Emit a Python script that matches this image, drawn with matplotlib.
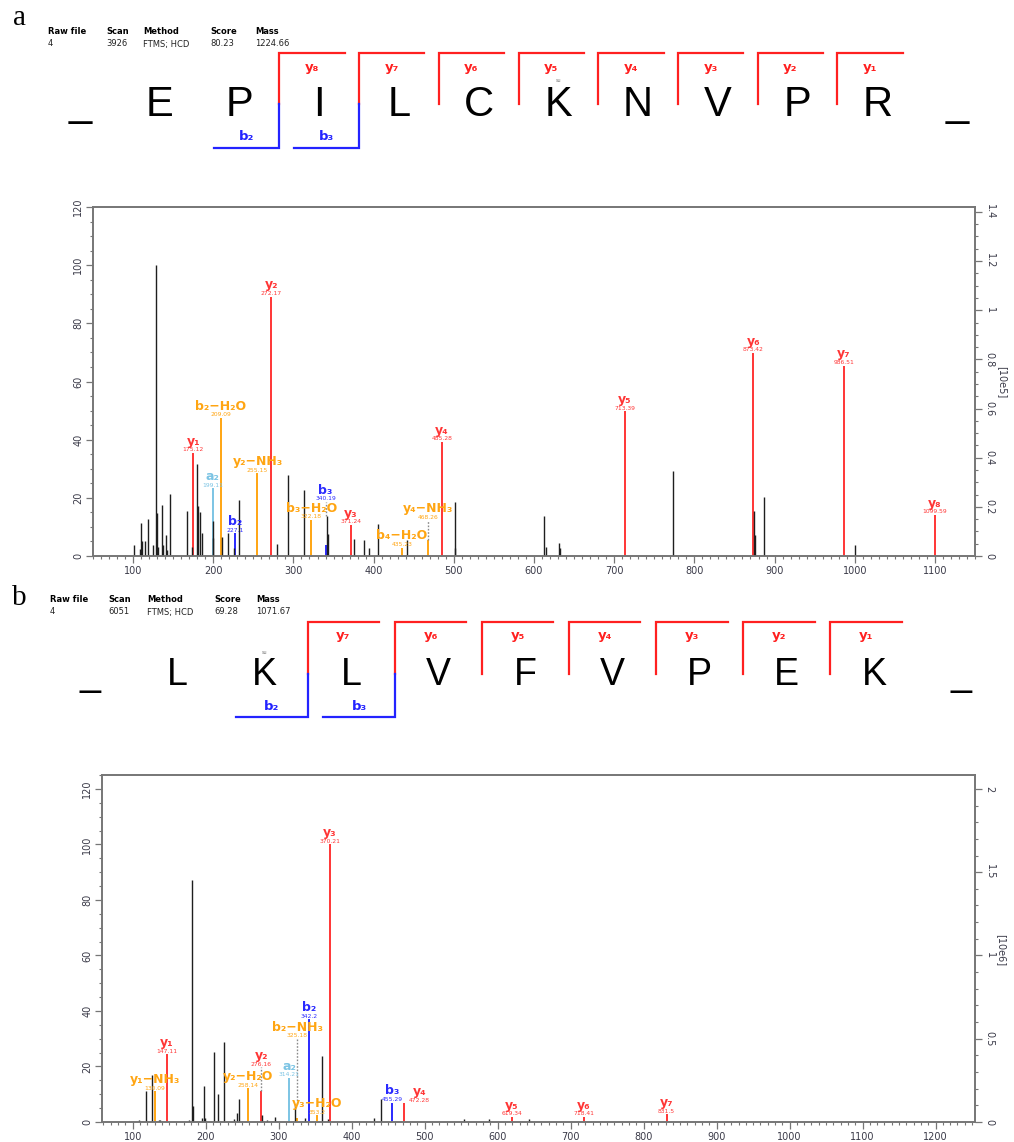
import matplotlib
matplotlib.use("Agg")
import matplotlib.pyplot as plt
import numpy as np
from matplotlib.ticker import MultipleLocator, FormatStrFormatter

# ---- data, panel a -------------------------------------------------------
a_info = ["4", "3926", "FTMS; HCD", "80.23", "1224.66"]
a_seq = ["E", "P", "I", "L", "C", "K", "N", "V", "P", "R"]
a_y_ions = [8, 7, 6, 5, 4, 3, 2, 1]
a_b_ions = [2, 3]

a_black_mz = [101.0, 108.5, 109.7, 111.4, 114.7, 118.9, 125.1, 128.4, 129.2, 131.3,
              135.5, 137.6, 140.5, 142.6, 146.3, 167.5, 172.9, 179.2, 181.2, 183.3,
              185.8, 199.6, 200.2, 210.3, 217.8, 226.1, 231.5, 279.3, 293.0, 313.4,
              341.3, 342.5, 374.9, 387.8, 394.4, 405.7, 441.0, 501.2, 502.0, 612.6,
              614.8, 631.3, 632.7, 773.0, 874.0, 875.3, 886.5, 1000.0]
a_black_int = [3.8, 2.3, 11.3, 5.2, 5.2, 12.8, 3.8, 100.0, 14.7, 3.2,
               17.6, 3.8, 7.2, 2.1, 21.4, 15.6, 3.2, 31.6, 17.2, 15.3,
               7.8, 12.1, 6.1, 6.7, 7.8, 2.9, 19.3, 4.1, 27.9, 22.8,
               13.6, 7.6, 5.9, 5.5, 2.6, 10.9, 5.5, 2.6, 18.4, 13.6,
               3.2, 4.4, 2.6, 29.1, 15.5, 7.2, 20.4, 3.8]

a_ion_names = ["y₁", "a₂", "b₂−H₂O", "b₂", "y₂−NH₃", "y₂", "b₃−H₂O", "b₃", "y₃",
               "b₄−H₂O", "y₄−NH₃", "y₄", "y₅", "y₆", "y₇", "y₈"]
a_ion_mz = [175.12, 199.11, 209.09, 227.1, 255.15, 272.17, 322.18, 340.19, 371.24,
            435.23, 468.26, 485.28, 713.39, 873.42, 986.51, 1099.59]
a_ion_int = [35.4, 23.3, 47.5, 7.8, 28.5, 89.2, 12.4, 3.8, 10.7,
             2.9, 5.5, 39.2, 49.8, 69.9, 65.5, 14.1]
a_ion_kind = ["y", "a", "loss", "b", "loss", "y", "loss", "b", "y",
              "loss", "loss", "y", "y", "y", "y", "y"]

# ---- data, panel b -------------------------------------------------------
b_info = ["4", "6051", "FTMS; HCD", "69.28", "1071.67"]
b_seq = ["L", "K", "L", "V", "F", "V", "P", "E", "K"]
b_y_ions = [7, 6, 5, 4, 3, 2, 1]
b_b_ions = [2, 3]

b_black_mz = [108.2, 118.3, 126.5, 135.6, 138.0, 177.7, 181.4, 182.6, 195.0, 197.3,
              199.6, 211.9, 217.0, 224.7, 238.4, 243.4, 246.2, 277.2, 284.0, 295.5,
              322.9, 335.6, 359.4, 368.0, 430.1, 440.3, 553.4, 587.7, 643.0]
b_black_int = [0.7, 11.1, 17.0, 0.7, 0.6, 0.7, 87.3, 5.9, 1.6, 12.8,
               1.4, 25.2, 10.2, 28.9, 1.0, 3.2, 8.4, 2.4, 0.9, 1.8,
               6.5, 1.4, 23.8, 1.0, 1.4, 8.2, 1.0, 1.0, 1.0]

b_ion_names = ["y₁−NH₃", "y₁", "y₂−H₂O", "y₂", "a₂", "b₂−NH₃", "b₂", "y₃−H₂O", "y₃",
               "b₃", "y₄", "y₅", "y₆", "y₇"]
b_ion_mz = [130.09, 147.11, 258.14, 276.16, 314.21, 325.18, 342.2, 353.2, 370.21,
            455.29, 472.28, 619.34, 718.41, 831.5]
b_ion_int = [11.0, 24.4, 12.2, 11.1, 15.9, 1.5, 37.0, 2.4, 100.0,
             7.0, 6.8, 1.8, 1.8, 2.8]
b_ion_kind = ["loss", "y", "loss", "y", "a", "loss", "b", "loss", "y",
              "b", "y", "y", "y", "y"]

# ---- styling --------------------------------------------------------------
W, H = 1014, 1142
COL = {"y": "#FF3535", "b": "#2A2AFF", "a": "#7CC4E4", "loss": "#FFA512"}
SEQ_RED = "#FF2020"
SEQ_BLUE = "#2323FF"
FRAME = "#767676"
TICKTXT = "#3a3a48"

fig = plt.figure(figsize=(W / 100, H / 100), dpi=100)
ov = fig.add_axes([0, 0, 1, 1])
ov.set_xlim(0, W)
ov.set_ylim(H, 0)
ov.axis("off")


def header(x_cols, y_top, values):
    heads = ["Raw file", "Scan", "Method", "Score", "Mass"]
    for x, h, v in zip(x_cols, heads, values):
        ov.text(x, y_top, h, fontsize=6, fontweight="bold", va="center", ha="left")
        ov.text(x, y_top + 13, v, fontsize=6, va="center", ha="left", color="#222222")


def sequence(seq, x0, x1, base, mid, top, bot, ylab, blab, y_ions, b_ions, su_idx, fs):
    pos = np.linspace(x0, x1, len(seq) + 2)
    step = pos[1] - pos[0]
    n = len(seq)
    for x, s in zip(pos, ["_"] + seq + ["_"]):
        ov.text(x, base, s, fontsize=fs, family="Liberation Sans",
                ha="center", va="baseline")
    for k in y_ions:
        bx = (pos[n - k] + pos[n - k + 1]) / 2
        ov.plot([bx, bx, bx + 0.82 * step], [mid, top, top], color=SEQ_RED, lw=1.6,
                solid_joinstyle="miter")
        ov.text(bx + 0.41 * step, ylab, f"y{chr(0x2080 + k)}", color=SEQ_RED,
                fontsize=9.5, fontweight="bold", ha="center", va="center")
    for k in b_ions:
        bx = (pos[k] + pos[k + 1]) / 2
        ov.plot([bx, bx, bx - 0.82 * step], [mid, bot, bot], color=SEQ_BLUE, lw=1.6,
                solid_joinstyle="miter")
        ov.text(bx - 0.41 * step, blab, f"b{chr(0x2080 + k)}", color=SEQ_BLUE,
                fontsize=9.5, fontweight="bold", ha="center", va="center")
    ov.text(pos[su_idx + 1], base - fs * 1.39 * 0.716 - 6, "su", fontsize=3.5,
            color="#777777", ha="center", va="center")


def spectrum(box, xlim, ylim, rlim, rmajor, rminor, black_mz, black_int,
             names, mzs, ints, kinds, lifts, shifts, unit, unit_xy):
    left, top, right, bottom = box
    ax = fig.add_axes([left / W, 1 - bottom / H, (right - left) / W, (bottom - top) / H])
    ax.set_xlim(*xlim)
    ax.set_ylim(*ylim)

    ax.vlines(mzs, 0, ints, colors=[COL[k] for k in kinds], lw=1.4, zorder=2)
    ax.vlines(black_mz, 0, black_int, colors="#1e1e1e", lw=1.0, zorder=3)

    for name, mz, h, kind in zip(names, mzs, ints, kinds):
        c = COL[kind]
        lab_h = h
        if name in lifts:
            lab_h, low = lifts[name]
            ax.vlines(mz, low, lab_h, colors="#8a8a8a", linestyles=(0, (1.2, 1.2)),
                      lw=1.0, zorder=4)
        dx = shifts.get(name, 0)
        ax.annotate(f"{mz:g}", (mz, lab_h), xytext=(dx, 0.4), textcoords="offset points",
                    ha="center", va="bottom", fontsize=4.3, color=c, zorder=5)
        ax.annotate(name, (mz, lab_h), xytext=(dx, 3.7), textcoords="offset points",
                    ha="center", va="bottom", fontsize=9, fontweight="bold", color=c,
                    zorder=5)

    ax.xaxis.set_major_locator(MultipleLocator(100))
    ax.xaxis.set_minor_locator(MultipleLocator(10))
    ax.yaxis.set_major_locator(MultipleLocator(20))
    ax.yaxis.set_minor_locator(MultipleLocator(5))

    ax2 = ax.twinx()
    ax2.set_ylim(*rlim)
    ax2.yaxis.set_major_locator(MultipleLocator(rmajor))
    ax2.yaxis.set_minor_locator(MultipleLocator(rminor))
    ax2.yaxis.set_major_formatter(FormatStrFormatter("%g"))

    for a in (ax, ax2):
        for sp in a.spines.values():
            sp.set_color(FRAME)
            sp.set_linewidth(1.2)
        a.tick_params(which="major", direction="out", length=5, width=0.9, color=FRAME,
                      labelsize=7, labelcolor=TICKTXT, pad=2)
        a.tick_params(which="minor", direction="out", length=2.5, width=0.8, color=FRAME)
    for t in ax.get_yticklabels():
        t.set_rotation(90)
        t.set_va("center")
    for t in ax2.get_yticklabels():
        t.set_rotation(270)
        t.set_va("center")
    fig.text(unit_xy[0] / W, 1 - unit_xy[1] / H, unit, rotation=270, fontsize=7,
             color=TICKTXT, ha="center", va="center")
    return ax


# ---- panel a ----------------------------------------------------------------
ov.text(20, 18, "a", fontsize=21, family="Liberation Serif", ha="center", va="center")
header([48, 106, 143, 210, 255], 31, a_info)
sequence(a_seq, 80, 957, 116, 104, 53, 148, 67, 137, a_y_ions, a_b_ions, 5, 30)
spectrum((93, 207, 975, 556), (50, 1150), (0, 120), (0, 1.42), 0.2, 0.05,
         a_black_mz, a_black_int, a_ion_names, a_ion_mz, a_ion_int, a_ion_kind,
         {"b₃": (18.6, 13.6), "y₄−NH₃": (12.3, 5.5)}, {}, "[10e5]", (1002, 382))

# ---- panel b ----------------------------------------------------------------
ov.text(19, 598, "b", fontsize=21, family="Liberation Serif", ha="center", va="center")
header([50, 108, 147, 214, 256], 599, b_info)
sequence(b_seq, 90, 961, 685, 674, 622, 717, 636, 707, b_y_ions, b_b_ions, 1, 27)
spectrum((102, 775, 975, 1122), (58, 1254), (0, 125), (0, 125 / 60), 0.5, 0.1,
         b_black_mz, b_black_int, b_ion_names, b_ion_mz, b_ion_int, b_ion_kind,
         {"y₂": (19.7, 11.1), "b₂−NH₃": (30.0, 6.5)}, {"y₄": 11}, "[10e6]", (1001, 950))

fig.savefig("out.png", dpi=100)
